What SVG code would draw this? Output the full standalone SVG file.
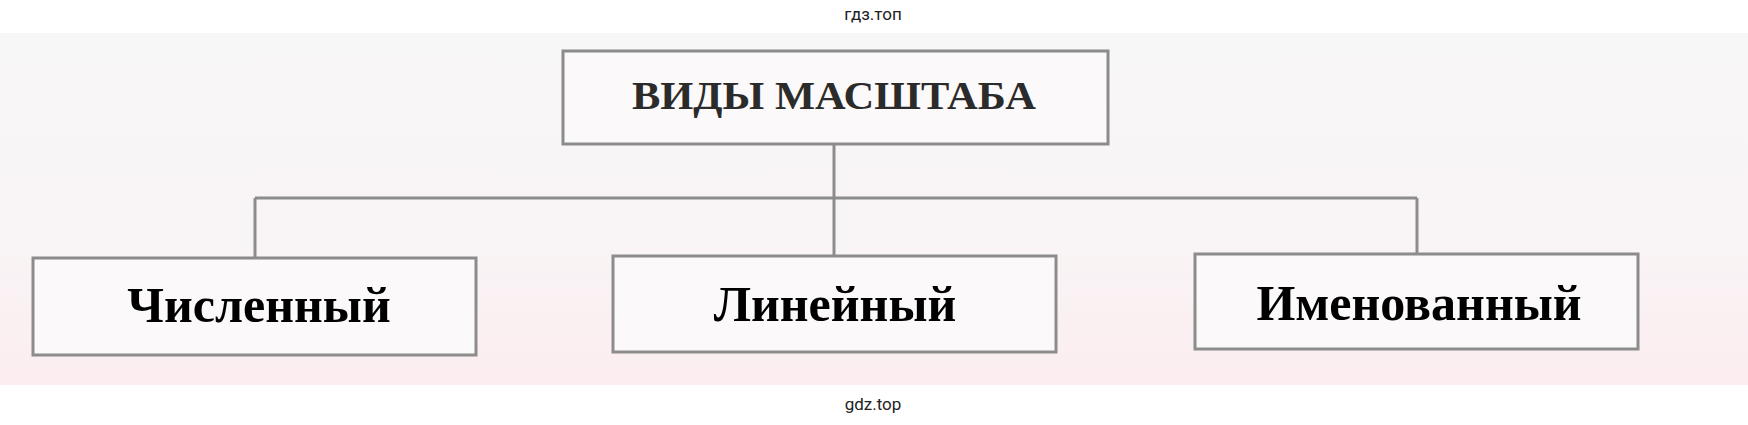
<svg xmlns="http://www.w3.org/2000/svg" width="1748" height="425" viewBox="0 0 1748 425">
  <defs>
    <linearGradient id="bg" x1="0" y1="0" x2="0" y2="1">
      <stop offset="0" stop-color="#f8f7f7"/>
      <stop offset="0.6" stop-color="#f9f4f5"/>
      <stop offset="1" stop-color="#fbedf0"/>
    </linearGradient>
  </defs>
  <style>
    .box { fill: #fbf9f9; stroke: #8c8c8c; stroke-width: 3; }
    .con { fill: none; stroke: #8c8c8c; stroke-width: 3; }
    .title { font-family: "Liberation Serif", "DejaVu Serif", serif; font-weight: bold; font-size: 40px; fill: #2b2b2b; text-anchor: middle; }
    .lbl { font-family: "Liberation Serif", "DejaVu Serif", serif; font-weight: bold; font-size: 50px; fill: #000; text-anchor: middle; }
    .wm { font-family: "Roboto", "Liberation Sans", sans-serif; font-size: 17px; fill: #222; text-anchor: middle; }
  </style>
  <rect x="0" y="0" width="1748" height="425" fill="#ffffff"/>
  <rect x="0" y="33" width="1748" height="352" fill="url(#bg)"/>
  <text class="wm" x="873" y="20">гдз.топ</text>
  <text class="wm" x="873" y="410">gdz.top</text>
  <g id="connectors">
    <path class="con" d="M834 145 V256"/>
    <path class="con" d="M255 198 H1417"/>
    <path class="con" d="M255 198 V258"/>
    <path class="con" d="M1417 198 V254"/>
  </g>
  <g id="root">
    <rect class="box" x="563" y="51" width="545" height="93"/>
    <text class="title" x="834" y="109" textLength="404" lengthAdjust="spacingAndGlyphs">ВИДЫ  МАСШТАБА</text>
  </g>
  <g id="chislenny">
    <rect class="box" x="33" y="258" width="443" height="97"/>
    <text class="lbl" x="259" y="322">Численный</text>
  </g>
  <g id="lineyny">
    <rect class="box" x="613" y="256" width="443" height="96"/>
    <text class="lbl" x="835" y="321">Линейный</text>
  </g>
  <g id="imenovanny">
    <rect class="box" x="1195" y="254" width="443" height="95"/>
    <text class="lbl" x="1419" y="320">Именованный</text>
  </g>
</svg>
